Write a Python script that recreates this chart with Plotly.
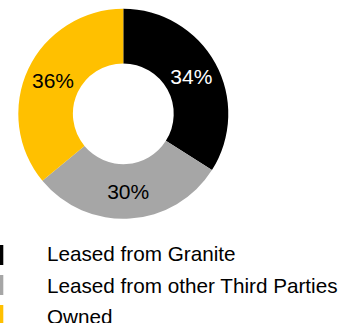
import plotly.graph_objects as go

W, H = 351, 323

labels = ["Leased from Granite", "Leased from other Third Parties", "Owned"]
values = [34, 30, 36]
colors = ["#000000", "#A6A6A6", "#FFC000"]
text_colors = ["#FFFFFF", "#000000", "#000000"]

FONT = "Liberation Sans, Arial, sans-serif"

# pie geometry in pixels
cx, cy, r = 123.3, 113.8, 105.0

def px_x(v):
    return v / W

def px_y(v):
    return 1 - v / H

fig = go.Figure()
fig.add_trace(go.Pie(
    labels=labels,
    values=values,
    hole=0.48,
    sort=False,
    direction="clockwise",
    rotation=0,
    marker=dict(colors=colors, line=dict(width=0)),
    textinfo="percent",
    texttemplate="%{percent:.0%}",
    textposition="inside",
    insidetextorientation="horizontal",
    textfont=dict(family=FONT, size=21, color=text_colors),
    domain=dict(x=[px_x(cx - r), px_x(cx + r)], y=[px_y(cy + r), px_y(cy - r)]),
    showlegend=False,
    hoverinfo="label+percent",
))

# manual legend built from the label/colour lists
row_top = [245, 275, 305]
text_mid = [253, 285, 316]
shapes = []
annotations = []
for i, (lab, col) in enumerate(zip(labels, colors)):
    shapes.append(dict(
        type="rect", xref="paper", yref="paper",
        x0=px_x(-10), x1=px_x(3.3),
        y0=px_y(row_top[i] + 20), y1=px_y(row_top[i]),
        fillcolor=col, line=dict(width=0),
    ))
    annotations.append(dict(
        text=lab, xref="paper", yref="paper",
        x=px_x(45), y=px_y(text_mid[i]),
        xanchor="left", yanchor="middle", showarrow=False,
        font=dict(family=FONT, size=20.7, color="#000000"),
    ))

fig.update_layout(
    width=W, height=H,
    margin=dict(l=0, r=0, t=0, b=0),
    paper_bgcolor="#FFFFFF",
    plot_bgcolor="#FFFFFF",
    shapes=shapes,
    annotations=annotations,
    showlegend=False,
)

fig.write_html("out.html")
